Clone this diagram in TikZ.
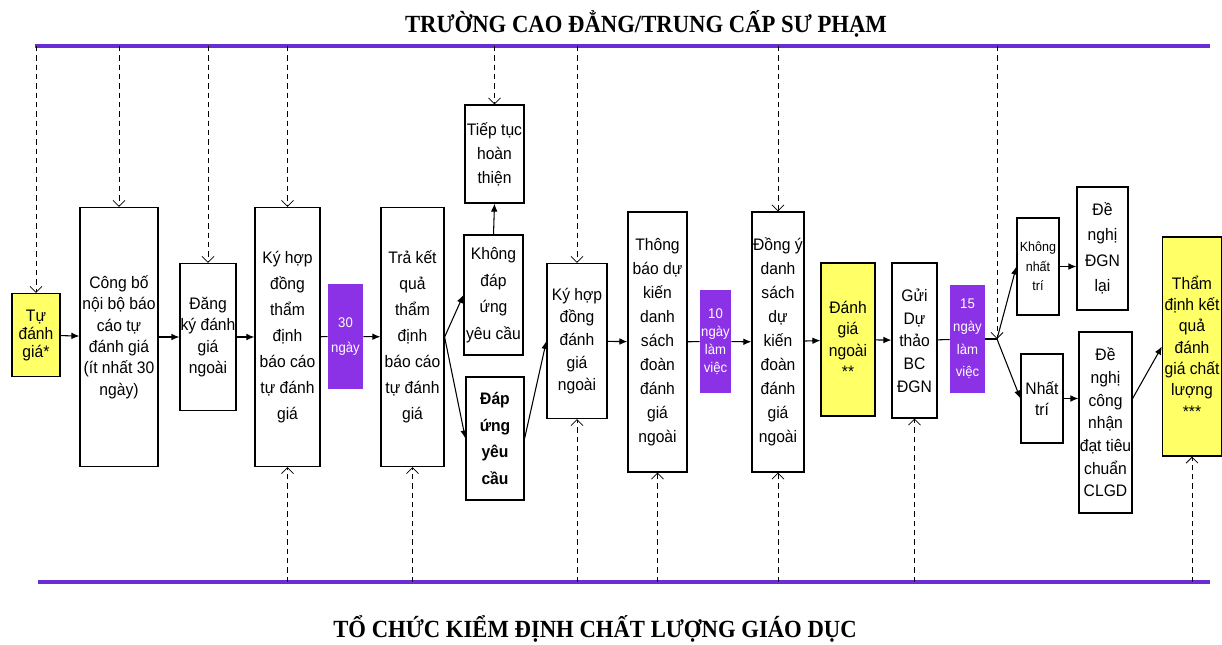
\documentclass[tikz,border=0pt]{standalone}
\usepackage{fontspec}
\usepackage{graphicx}
\newfontfamily\arialfont[FakeStretch=0.94]{Liberation Sans}
\newfontfamily\timesfont{Liberation Serif}
\usetikzlibrary{arrows.meta}
\definecolor{dayfill}{RGB}{140,50,230}
\definecolor{laneline}{RGB}{105,45,215}
\definecolor{hlyellow}{RGB}{255,255,102}

\begin{document}
\begin{tikzpicture}[x=0.75pt, y=-0.75pt, >=Latex,
  box/.style={draw, line width=0.9pt, align=center, inner sep=0pt, font=\arialfont\fontsize{12.5}{#1}\selectfont},
  box/.default=15,
  hl/.style={fill=hlyellow},
  daybox/.style={fill=dayfill, text=white, align=center, inner sep=0pt, font=\arialfont\fontsize{10.5}{#1}\selectfont},
  daybox/.default=17,
  flow/.style={line width=0.8pt, -{Latex[length=6pt,width=5pt]}},
  link/.style={line width=0.8pt},
  dashflow/.style={line width=0.6pt, dash pattern=on 4pt off 3pt, -{Straight Barb[length=4.5pt,width=9pt]}},
  lane/.style={line width=2.8pt, draw=laneline},
  lanetitle/.style={anchor=base, inner sep=0pt, font=\timesfont\bfseries\fontsize{18.5}{20}\selectfont}]
  \useasboundingbox (0,0) rectangle (1222,644);

  % lanes
  \coordinate (topL) at (35,46);
  \coordinate (topR) at (1210,46);
  \coordinate (botL) at (38,582);
  \coordinate (botR) at (1210,582);
  \draw[lane] (topL) -- (topR);
  \draw[lane] (botL) -- (botR);
  \node[lanetitle] (toptitle) at (646,32) {\scalebox{0.92}[1]{TRƯỜNG CAO ĐẲNG/TRUNG CẤP SƯ PHẠM}};
  \node[lanetitle] (bottitle) at (595,637) {\scalebox{0.92}[1]{TỔ CHỨC KIỂM ĐỊNH CHẤT LƯỢNG GIÁO DỤC}};

  % main flow
  \node[box=13.5, hl, minimum width=36pt, minimum height=62.25pt] (tudg) at (36,335) {Tự\\đánh\\giá*};
  \node[box=16, minimum width=58.5pt, minimum height=194.25pt] (congbo) at (119,337) {Công bố\\nội bộ báo\\cáo tự\\đánh giá\\(ít nhất 30\\ngày)};
  \node[box=16, minimum width=42pt, minimum height=110.25pt] (dangky) at (208,337) {Đăng\\ký đánh\\giá\\ngoài};
  \node[box=19.5, minimum width=48.75pt, minimum height=194.25pt] (khdtd) at (287.5,337) {Ký hợp\\đồng\\thẩm\\định\\báo cáo\\tự đánh\\giá};
  \node[daybox=19, minimum width=26.25pt, minimum height=78.75pt] (ngay30) at (345.5,336.5) {30\\ngày};
  \node[box=19.5, minimum width=47.25pt, minimum height=194.25pt] (traketqua) at (412.5,337) {Trả kết\\quả\\thẩm\\định\\báo cáo\\tự đánh\\giá};
  \node[box=18, minimum width=44.25pt, minimum height=73.5pt] (tieptuc) at (494.5,154) {Tiếp tục\\hoàn\\thiện};
  \node[box=20, minimum width=44.25pt, minimum height=90pt] (khongdu) at (493.5,295) {Không\\đáp\\ứng\\yêu cầu};
  \node[box, minimum width=43.5pt, minimum height=92.25pt, font=\arialfont\bfseries\fontsize{12.5}{20}\selectfont] (dapung) at (495,438.5) {Đáp\\ứng\\yêu\\cầu};
  \node[box=17, minimum width=45pt, minimum height=116.25pt] (khdgn) at (577,341) {Ký hợp\\đồng\\đánh\\giá\\ngoài};
  \node[box=18, minimum width=44.25pt, minimum height=195pt] (thongbao) at (657.5,342) {Thông\\báo dự\\kiến\\danh\\sách\\đoàn\\đánh\\giá\\ngoài};
  \node[daybox=13.5, minimum width=23.25pt, minimum height=77.25pt] (ngay10) at (715.5,341.5) {10\\ngày\\làm\\việc};
  \node[box=18, minimum width=39pt, minimum height=195pt] (dongy) at (778,342) {Đồng ý\\danh\\sách\\dự\\kiến\\đoàn\\đánh\\giá\\ngoài};
  \node[box=16, hl, minimum width=40.5pt, minimum height=114.75pt] (dgn) at (848,339.5) {Đánh\\giá\\ngoài\\**};
  \node[box=17, minimum width=33.75pt, minimum height=116.25pt] (guiduthao) at (914.5,340.5) {Gửi\\Dự\\thảo\\BC\\ĐGN};
  \node[daybox=17, minimum width=26.25pt, minimum height=81pt] (ngay15) at (967.5,339) {15\\ngày\\làm\\việc};
  \coordinate (split) at (997,339);

  % two outcomes
  \node[box, minimum width=31.5pt, minimum height=72.75pt, font=\arialfont\fontsize{10}{14.5}\selectfont] (khongnt) at (1038,266.5) {Không\\nhất\\trí};
  \node[box=19, minimum width=38.25pt, minimum height=92.25pt] (denghilai) at (1102.5,248.5) {Đề\\nghị\\ĐGN\\lại};
  \node[box=16, minimum width=31.5pt, minimum height=66.75pt] (nhattri) at (1042,398.5) {Nhất\\trí};
  \node[box=17, minimum width=39.75pt, minimum height=135.75pt] (denghicn) at (1105.5,422.5) {Đề\\nghị\\công\\nhận\\đạt tiêu\\chuẩn\\CLGD};
  \node[box=16, hl, minimum width=44.25pt, minimum height=164.25pt] (thamdinh) at (1192,346.5) {Thẩm\\định kết\\quả\\đánh\\giá chất\\lượng\\***};

  \draw[flow] (tudg) -- (congbo);
  \draw[flow] (congbo) -- (dangky);
  \draw[flow] (dangky) -- (khdtd);
  \draw[link] (khdtd) -- (ngay30);
  \draw[flow] (ngay30) -- (traketqua);
  \draw[flow] (traketqua.east) -- (khongdu.west);
  \draw[flow] (traketqua.east) -- (dapung.west);
  \draw[flow] (khongdu.north) -- (tieptuc.south);
  \draw[flow] (dapung.east) -- (khdgn.west);
  \draw[flow] (khdgn) -- (thongbao);
  \draw[link] (thongbao) -- (ngay10);
  \draw[flow] (ngay10) -- (dongy);
  \draw[flow] (dongy) -- (dgn);
  \draw[flow] (dgn) -- (guiduthao);
  \draw[link] (guiduthao) -- (ngay15);
  \draw[link] (ngay15) -- (split);
  \draw[flow] (split) -- (khongnt.west);
  \draw[flow] (split) -- (nhattri.west);
  \draw[flow] (khongnt.east) -- (khongnt.east -| denghilai.west);
  \draw[flow] (nhattri.east) -- (nhattri.east -| denghicn.west);
  \draw[flow] (denghicn.east |- nhattri) -- (thamdinh.west);

  % from the college
  \draw[dashflow] (tudg.north |- topL) -- (tudg.north);
  \draw[dashflow] (congbo.north |- topL) -- (congbo.north);
  \draw[dashflow] (dangky.north |- topL) -- (dangky.north);
  \draw[dashflow] (khdtd.north |- topL) -- (khdtd.north);
  \draw[dashflow] (tieptuc.north |- topL) -- (tieptuc.north);
  \draw[dashflow] (khdgn.north |- topL) -- (khdgn.north);
  \draw[dashflow] (dongy.north |- topL) -- (dongy.north);
  \draw[dashflow] (split |- topL) -- (split);

  % from the accreditation body
  \draw[dashflow] (khdtd.south |- botL) -- (khdtd.south);
  \draw[dashflow] (traketqua.south |- botL) -- (traketqua.south);
  \draw[dashflow] (khdgn.south |- botL) -- (khdgn.south);
  \draw[dashflow] (thongbao.south |- botL) -- (thongbao.south);
  \draw[dashflow] (dongy.south |- botL) -- (dongy.south);
  \draw[dashflow] (guiduthao.south |- botL) -- (guiduthao.south);
  \draw[dashflow] (thamdinh.south |- botL) -- (thamdinh.south);
\end{tikzpicture}
\end{document}
